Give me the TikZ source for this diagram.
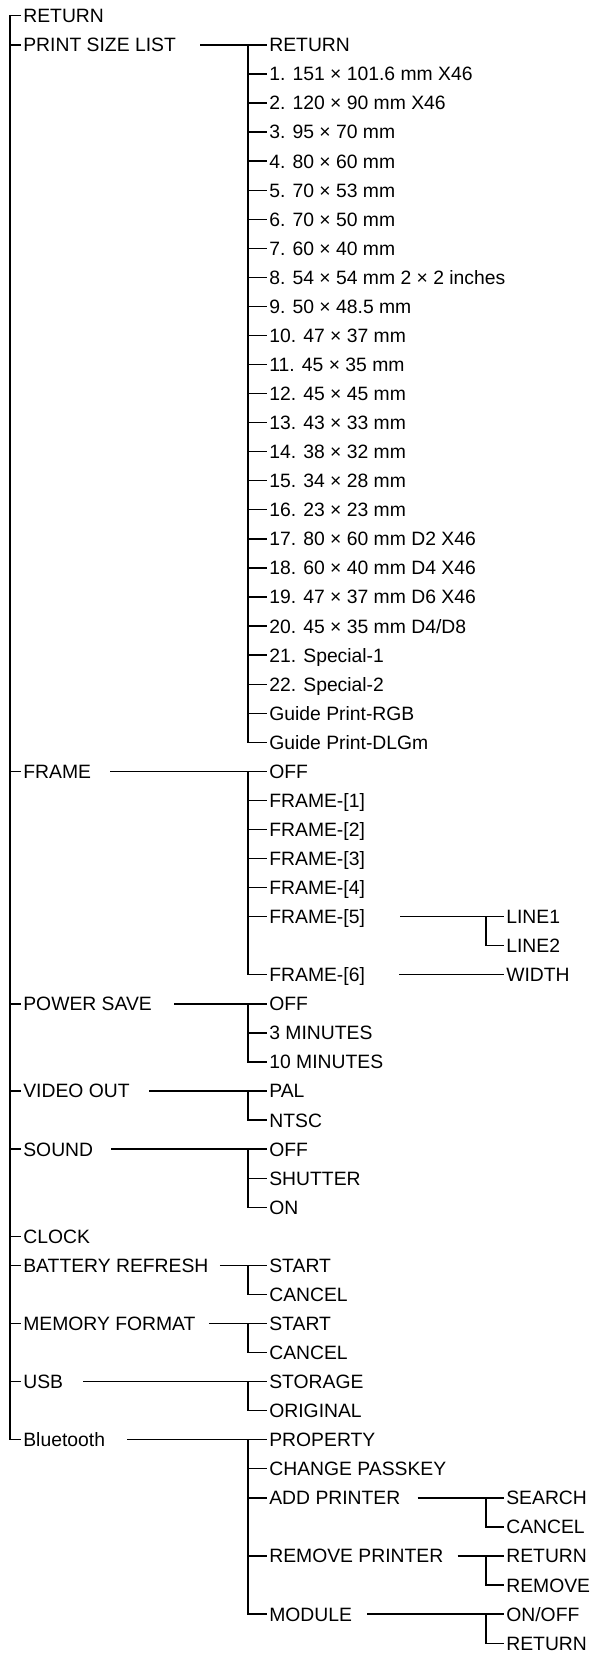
\documentclass[tikz,border=0pt]{standalone}
\usepackage{fontspec}
\setmainfont{Liberation Sans}
\usetikzlibrary{positioning, calc}

\newcommand\rowy[1]{15.8+29.06*(#1)}

\begin{document}
\begin{tikzpicture}[
  x=0.02cm, y=-0.02cm,
  item/.style={anchor=west, inner xsep=0.04cm, inner ysep=0pt,
               text height=7.9pt, text depth=0pt,
               font=\fontsize{11}{13}\selectfont},
  wire/.style={line width=0.75pt, color=black},
]
\useasboundingbox (0,0) rectangle (599,1654);

% --- Bar positions ---
\coordinate (barA) at (10,0);
\coordinate (barB) at (248,0);
\coordinate (barC) at (486,0);

% --- Top level ---
\node[item] (ret)    at (21, {\rowy{0}})  {RETURN};
\node[item] (psl)    at (21, {\rowy{1}})  {PRINT SIZE LIST};
\node[item] (frame)  at (21, {\rowy{26}}) {FRAME};
\node[item] (psave)  at (21, {\rowy{34}}) {POWER SAVE};
\node[item] (video)  at (21, {\rowy{37}}) {VIDEO OUT};
\node[item] (sound)  at (21, {\rowy{39}}) {SOUND};
\node[item] (clock)  at (21, {\rowy{42}}) {CLOCK};
\node[item] (batt)   at (21, {\rowy{43}}) {BATTERY REFRESH};
\node[item] (memfmt) at (21, {\rowy{45}}) {MEMORY FORMAT};
\node[item] (usb)    at (21, {\rowy{47}}) {USB};
\node[item] (blue)   at (21, {\rowy{49}}) {Bluetooth};

\draw[wire] (ret.west) -- (ret.west -| barA) |- (blue.west);
\foreach \n in {psl, frame, psave, video, sound, clock, batt, memfmt, usb}
  \draw[wire] (\n.west -| barA) -- (\n.west);

% --- Print size list ---
\foreach \t [count=\i from 0] in {RETURN, 1. 151 × 101.6 mm X46, 2. 120 × 90 mm X46,
    3. 95 × 70 mm, 4. 80 × 60 mm, 5. 70 × 53 mm, 6. 70 × 50 mm, 7. 60 × 40 mm,
    8. 54 × 54 mm 2 × 2 inches, 9. 50 × 48.5 mm, 10. 47 × 37 mm, 11. 45 × 35 mm,
    12. 45 × 45 mm, 13. 43 × 33 mm, 14. 38 × 32 mm, 15. 34 × 28 mm, 16. 23 × 23 mm,
    17. 80 × 60 mm D2 X46, 18. 60 × 40 mm D4 X46, 19. 47 × 37 mm D6 X46,
    20. 45 × 35 mm D4/D8, 21. Special-1, 22. Special-2, Guide Print-RGB, Guide Print-DLGm}
  \node[item] (sz\i) at (267, {\rowy{1+\i}}) {\t};

\draw[wire] ($(psl.east)+(22,0)$) -- (sz0.west);
\draw[wire] (sz0.west -| barB) |- (sz24.west);
\foreach \i in {1,...,23}
  \draw[wire] (sz\i.west -| barB) -- (sz\i.west);

% --- Frame ---
\foreach \t [count=\i from 0] in {OFF, FRAME-[1], FRAME-[2], FRAME-[3], FRAME-[4], FRAME-[5]}
  \node[item] (fr\i) at (267, {\rowy{26+\i}}) {\t};
\node[item] (fr6) at (267, {\rowy{33}}) {FRAME-[6]};
\node[item] (ln1) at (504, {\rowy{31}}) {LINE1};
\node[item] (ln2) at (504, {\rowy{32}}) {LINE2};
\node[item] (wid) at (504, {\rowy{33}}) {WIDTH};

\draw[wire] ($(frame.east)+(17,0)$) -- (fr0.west);
\draw[wire] (fr0.west -| barB) |- (fr6.west);
\foreach \i in {1,...,5}
  \draw[wire] (fr\i.west -| barB) -- (fr\i.west);
\draw[wire] ($(fr5.east)+(33,0)$) -- (ln1.west);
\draw[wire] (ln1.west -| barC) |- (ln2.west);
\draw[wire] ($(fr6.east)+(32,0)$) -- (wid.west);

% --- Power save, video out, sound ---
\node[item] (pw0) at (267, {\rowy{34}}) {OFF};
\node[item] (pw1) at (267, {\rowy{35}}) {3 MINUTES};
\node[item] (pw2) at (267, {\rowy{36}}) {10 MINUTES};
\draw[wire] ($(psave.east)+(20,0)$) -- (pw0.west);
\draw[wire] (pw0.west -| barB) |- (pw2.west);
\draw[wire] (pw1.west -| barB) -- (pw1.west);

\node[item] (vo0) at (267, {\rowy{37}}) {PAL};
\node[item] (vo1) at (267, {\rowy{38}}) {NTSC};
\draw[wire] ($(video.east)+(17,0)$) -- (vo0.west);
\draw[wire] (vo0.west -| barB) |- (vo1.west);

\node[item] (sd0) at (267, {\rowy{39}}) {OFF};
\node[item] (sd1) at (267, {\rowy{40}}) {SHUTTER};
\node[item] (sd2) at (267, {\rowy{41}}) {ON};
\draw[wire] ($(sound.east)+(16,0)$) -- (sd0.west);
\draw[wire] (sd0.west -| barB) |- (sd2.west);
\draw[wire] (sd1.west -| barB) -- (sd1.west);

% --- Battery refresh, memory format, usb ---
\node[item] (br0) at (267, {\rowy{43}}) {START};
\node[item] (br1) at (267, {\rowy{44}}) {CANCEL};
\draw[wire] ($(batt.east)+(9,0)$) -- (br0.west);
\draw[wire] (br0.west -| barB) |- (br1.west);

\node[item] (mf0) at (267, {\rowy{45}}) {START};
\node[item] (mf1) at (267, {\rowy{46}}) {CANCEL};
\draw[wire] ($(memfmt.east)+(11,0)$) -- (mf0.west);
\draw[wire] (mf0.west -| barB) |- (mf1.west);

\node[item] (us0) at (267, {\rowy{47}}) {STORAGE};
\node[item] (us1) at (267, {\rowy{48}}) {ORIGINAL};
\draw[wire] ($(usb.east)+(18,0)$) -- (us0.west);
\draw[wire] (us0.west -| barB) |- (us1.west);

% --- Bluetooth ---
\node[item] (bl0) at (267, {\rowy{49}}) {PROPERTY};
\node[item] (bl1) at (267, {\rowy{50}}) {CHANGE PASSKEY};
\node[item] (bl2) at (267, {\rowy{51}}) {ADD PRINTER};
\node[item] (bl3) at (267, {\rowy{53}}) {REMOVE PRINTER};
\node[item] (bl4) at (267, {\rowy{55}}) {MODULE};
\draw[wire] ($(blue.east)+(20,0)$) -- (bl0.west);
\draw[wire] (bl0.west -| barB) |- (bl4.west);
\foreach \i in {1,2,3}
  \draw[wire] (bl\i.west -| barB) -- (bl\i.west);

\node[item] (ap0) at (504, {\rowy{51}}) {SEARCH};
\node[item] (ap1) at (504, {\rowy{52}}) {CANCEL};
\node[item] (rp0) at (504, {\rowy{53}}) {RETURN};
\node[item] (rp1) at (504, {\rowy{54}}) {REMOVE};
\node[item] (md0) at (504, {\rowy{55}}) {ON/OFF};
\node[item] (md1) at (504, {\rowy{56}}) {RETURN};
\draw[wire] ($(bl2.east)+(15,0)$) -- (ap0.west);
\draw[wire] (ap0.west -| barC) |- (ap1.west);
\draw[wire] ($(bl3.east)+(12,0)$) -- (rp0.west);
\draw[wire] (rp0.west -| barC) |- (rp1.west);
\draw[wire] ($(bl4.east)+(13,0)$) -- (md0.west);
\draw[wire] (md0.west -| barC) |- (md1.west);

\end{tikzpicture}
\end{document}
